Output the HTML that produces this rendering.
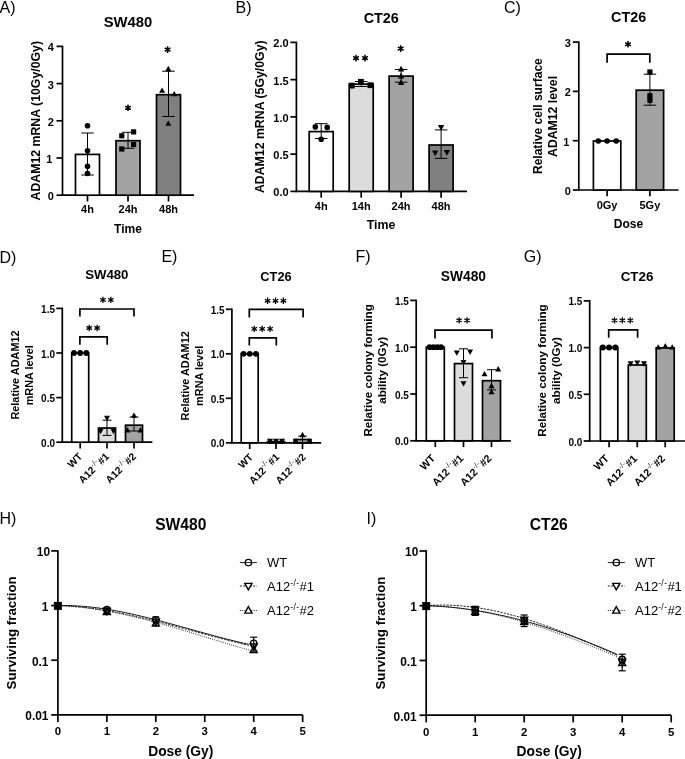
<!DOCTYPE html><html><head><meta charset="utf-8"><style>html,body{margin:0;padding:0;background:#fff;}svg{display:block;will-change:transform;}</style></head><body>
<svg width="685" height="759" viewBox="0 0 685 759" font-family='"Liberation Sans", sans-serif' fill="#000">
<text x="-0.50" y="12.70" font-size="16" font-weight="normal">A)</text>
<text x="128.00" y="26.80" font-size="14.8" text-anchor="middle" font-weight="bold" >SW480</text>
<line x1="62.50" y1="45.65" x2="62.50" y2="195.95" stroke="#000" stroke-width="1.7" />
<line x1="56.50" y1="195.20" x2="62.50" y2="195.20" stroke="#000" stroke-width="1.7" />
<text x="53.90" y="200.15" font-size="11" text-anchor="end" font-weight="bold" >0</text>
<line x1="56.50" y1="158.00" x2="62.50" y2="158.00" stroke="#000" stroke-width="1.7" />
<text x="52.47" y="162.95" font-size="11" text-anchor="end" font-weight="bold" >1</text>
<line x1="56.50" y1="120.80" x2="62.50" y2="120.80" stroke="#000" stroke-width="1.7" />
<text x="53.90" y="125.75" font-size="11" text-anchor="end" font-weight="bold" >2</text>
<line x1="56.50" y1="83.60" x2="62.50" y2="83.60" stroke="#000" stroke-width="1.7" />
<text x="53.90" y="88.55" font-size="11" text-anchor="end" font-weight="bold" >3</text>
<line x1="56.50" y1="46.40" x2="62.50" y2="46.40" stroke="#000" stroke-width="1.7" />
<text x="53.90" y="51.35" font-size="11" text-anchor="end" font-weight="bold" >4</text>
<line x1="61.75" y1="195.20" x2="194.00" y2="195.20" stroke="#000" stroke-width="1.7" />
<line x1="87.50" y1="195.20" x2="87.50" y2="201.50" stroke="#000" stroke-width="1.7" />
<line x1="128.00" y1="195.20" x2="128.00" y2="201.50" stroke="#000" stroke-width="1.7" />
<line x1="168.50" y1="195.20" x2="168.50" y2="201.50" stroke="#000" stroke-width="1.7" />
<rect x="75.50" y="154.40" width="24.00" height="40.80" fill="#fff" stroke="#000" stroke-width="1.7"/>
<rect x="116.00" y="140.70" width="24.00" height="54.50" fill="#a3a3a3" stroke="#000" stroke-width="1.7"/>
<rect x="156.50" y="94.70" width="24.00" height="100.50" fill="#808080" stroke="#000" stroke-width="1.7"/>
<line x1="87.50" y1="133.00" x2="87.50" y2="175.00" stroke="#000" stroke-width="1.0" />
<line x1="81.25" y1="133.00" x2="93.75" y2="133.00" stroke="#000" stroke-width="1.0" />
<line x1="81.25" y1="175.00" x2="93.75" y2="175.00" stroke="#000" stroke-width="1.0" />
<circle cx="87.50" cy="125.80" r="2.8" fill="#000"/>
<circle cx="87.50" cy="150.70" r="2.8" fill="#000"/>
<circle cx="87.50" cy="166.30" r="2.8" fill="#000"/>
<circle cx="87.50" cy="173.50" r="2.8" fill="#000"/>
<line x1="128.00" y1="132.30" x2="128.00" y2="148.30" stroke="#000" stroke-width="1.0" />
<line x1="121.75" y1="132.30" x2="134.25" y2="132.30" stroke="#000" stroke-width="1.0" />
<line x1="121.75" y1="148.30" x2="134.25" y2="148.30" stroke="#000" stroke-width="1.0" />
<rect x="119.20" y="133.20" width="5.2" height="5.2" fill="#000"/>
<rect x="131.00" y="129.30" width="5.2" height="5.2" fill="#000"/>
<rect x="131.00" y="142.00" width="5.2" height="5.2" fill="#000"/>
<rect x="119.20" y="146.40" width="5.2" height="5.2" fill="#000"/>
<line x1="168.50" y1="71.20" x2="168.50" y2="116.50" stroke="#000" stroke-width="1.0" />
<line x1="162.25" y1="71.20" x2="174.75" y2="71.20" stroke="#000" stroke-width="1.0" />
<line x1="162.25" y1="116.50" x2="174.75" y2="116.50" stroke="#000" stroke-width="1.0" />
<polygon points="168.30,65.76 165.30,71.16 171.30,71.16" fill="#000" />
<polygon points="162.10,87.46 159.10,92.86 165.10,92.86" fill="#000" />
<polygon points="174.20,90.96 171.20,96.36 177.20,96.36" fill="#000" />
<polygon points="168.30,120.46 165.30,125.86 171.30,125.86" fill="#000" />
<path d="M128.00,104.40L128.00,111.00M125.14,106.05L130.86,109.35M130.86,106.05L125.14,109.35" stroke="#000" stroke-width="1.5" fill="none"/>
<path d="M167.60,46.30L167.60,52.90M164.74,47.95L170.46,51.25M170.46,47.95L164.74,51.25" stroke="#000" stroke-width="1.5" fill="none"/>
<text x="87.50" y="213.40" font-size="11" text-anchor="middle" font-weight="bold" >4h</text>
<text x="128.00" y="213.40" font-size="11" text-anchor="middle" font-weight="bold" >24h</text>
<text x="168.50" y="213.40" font-size="11" text-anchor="middle" font-weight="bold" >48h</text>
<text x="128.00" y="232.60" font-size="12" text-anchor="middle" font-weight="bold" >Time</text>
<text transform="translate(39.60,120.70) rotate(-90)" font-size="12.3" text-anchor="middle" font-weight="bold">ADAM12 mRNA (10Gy/0Gy)</text>
<text x="235.50" y="12.50" font-size="16" font-weight="normal">B)</text>
<text x="381.30" y="22.90" font-size="14.4" text-anchor="middle" font-weight="bold" >CT26</text>
<line x1="296.40" y1="41.65" x2="296.40" y2="192.15" stroke="#000" stroke-width="1.7" />
<line x1="290.40" y1="191.40" x2="296.40" y2="191.40" stroke="#000" stroke-width="1.7" />
<text x="288.60" y="196.35" font-size="11" text-anchor="end" font-weight="bold" >0.0</text>
<line x1="290.40" y1="154.15" x2="296.40" y2="154.15" stroke="#000" stroke-width="1.7" />
<text x="288.60" y="159.10" font-size="11" text-anchor="end" font-weight="bold" >0.5</text>
<line x1="290.40" y1="116.90" x2="296.40" y2="116.90" stroke="#000" stroke-width="1.7" />
<text x="288.60" y="121.85" font-size="11" text-anchor="end" font-weight="bold" >1.0</text>
<line x1="290.40" y1="79.65" x2="296.40" y2="79.65" stroke="#000" stroke-width="1.7" />
<text x="288.60" y="84.60" font-size="11" text-anchor="end" font-weight="bold" >1.5</text>
<line x1="290.40" y1="42.40" x2="296.40" y2="42.40" stroke="#000" stroke-width="1.7" />
<text x="288.60" y="47.35" font-size="11" text-anchor="end" font-weight="bold" >2.0</text>
<line x1="295.65" y1="191.40" x2="467.00" y2="191.40" stroke="#000" stroke-width="1.7" />
<line x1="321.20" y1="191.40" x2="321.20" y2="197.70" stroke="#000" stroke-width="1.7" />
<line x1="361.20" y1="191.40" x2="361.20" y2="197.70" stroke="#000" stroke-width="1.7" />
<line x1="401.10" y1="191.40" x2="401.10" y2="197.70" stroke="#000" stroke-width="1.7" />
<line x1="441.10" y1="191.40" x2="441.10" y2="197.70" stroke="#000" stroke-width="1.7" />
<rect x="309.20" y="131.60" width="24.00" height="59.80" fill="#fff" stroke="#000" stroke-width="1.7"/>
<rect x="349.20" y="84.10" width="24.00" height="107.30" fill="#dcdcdc" stroke="#000" stroke-width="1.7"/>
<rect x="389.10" y="76.10" width="24.00" height="115.30" fill="#a3a3a3" stroke="#000" stroke-width="1.7"/>
<rect x="429.10" y="145.00" width="24.00" height="46.40" fill="#808080" stroke="#000" stroke-width="1.7"/>
<line x1="321.20" y1="123.70" x2="321.20" y2="138.50" stroke="#000" stroke-width="1.0" />
<line x1="314.95" y1="123.70" x2="327.45" y2="123.70" stroke="#000" stroke-width="1.0" />
<line x1="314.95" y1="138.50" x2="327.45" y2="138.50" stroke="#000" stroke-width="1.0" />
<circle cx="315.30" cy="126.90" r="2.8" fill="#000"/>
<circle cx="327.20" cy="127.40" r="2.8" fill="#000"/>
<circle cx="321.20" cy="139.30" r="2.8" fill="#000"/>
<line x1="361.20" y1="81.50" x2="361.20" y2="86.50" stroke="#000" stroke-width="1.0" />
<line x1="354.95" y1="81.50" x2="367.45" y2="81.50" stroke="#000" stroke-width="1.0" />
<line x1="354.95" y1="86.50" x2="367.45" y2="86.50" stroke="#000" stroke-width="1.0" />
<rect x="348.90" y="82.70" width="5.8" height="5.8" fill="#000"/>
<rect x="358.00" y="78.90" width="5.8" height="5.8" fill="#000"/>
<rect x="367.50" y="82.30" width="5.8" height="5.8" fill="#000"/>
<line x1="401.10" y1="69.50" x2="401.10" y2="82.20" stroke="#000" stroke-width="1.0" />
<line x1="394.85" y1="69.50" x2="407.35" y2="69.50" stroke="#000" stroke-width="1.0" />
<line x1="394.85" y1="82.20" x2="407.35" y2="82.20" stroke="#000" stroke-width="1.0" />
<polygon points="401.10,65.84 397.90,71.60 404.30,71.60" fill="#000" />
<polygon points="401.10,72.64 397.90,78.40 404.30,78.40" fill="#000" />
<polygon points="401.10,79.34 397.90,85.10 404.30,85.10" fill="#000" />
<line x1="441.10" y1="129.90" x2="441.10" y2="158.40" stroke="#000" stroke-width="1.0" />
<line x1="434.85" y1="129.90" x2="447.35" y2="129.90" stroke="#000" stroke-width="1.0" />
<line x1="434.85" y1="158.40" x2="447.35" y2="158.40" stroke="#000" stroke-width="1.0" />
<polygon points="441.10,130.86 437.90,125.10 444.30,125.10" fill="#000" />
<polygon points="435.20,156.16 432.00,150.40 438.40,150.40" fill="#000" />
<polygon points="446.90,155.66 443.70,149.90 450.10,149.90" fill="#000" />
<path d="M356.00,54.80L356.00,61.40M353.14,56.45L358.86,59.75M358.86,56.45L353.14,59.75" stroke="#000" stroke-width="1.5" fill="none"/>
<path d="M365.00,54.80L365.00,61.40M362.14,56.45L367.86,59.75M367.86,56.45L362.14,59.75" stroke="#000" stroke-width="1.5" fill="none"/>
<path d="M400.70,45.30L400.70,51.90M397.84,46.95L403.56,50.25M403.56,46.95L397.84,50.25" stroke="#000" stroke-width="1.5" fill="none"/>
<text x="321.20" y="210.20" font-size="11" text-anchor="middle" font-weight="bold" >4h</text>
<text x="361.20" y="210.20" font-size="11" text-anchor="middle" font-weight="bold" >14h</text>
<text x="401.10" y="210.20" font-size="11" text-anchor="middle" font-weight="bold" >24h</text>
<text x="441.10" y="210.20" font-size="11" text-anchor="middle" font-weight="bold" >48h</text>
<text x="381.10" y="228.80" font-size="12.4" text-anchor="middle" font-weight="bold" >Time</text>
<text transform="translate(263.50,116.75) rotate(-90)" font-size="12.3" text-anchor="middle" font-weight="bold">ADAM12 mRNA (5Gy/0Gy)</text>
<text x="504.00" y="12.60" font-size="16" font-weight="normal">C)</text>
<text x="628.70" y="22.20" font-size="14.4" text-anchor="middle" font-weight="bold" >CT26</text>
<line x1="578.80" y1="41.35" x2="578.80" y2="190.75" stroke="#000" stroke-width="1.7" />
<line x1="572.80" y1="190.00" x2="578.80" y2="190.00" stroke="#000" stroke-width="1.7" />
<text x="570.90" y="194.95" font-size="11" text-anchor="end" font-weight="bold" >0</text>
<line x1="572.80" y1="140.70" x2="578.80" y2="140.70" stroke="#000" stroke-width="1.7" />
<text x="569.47" y="145.65" font-size="11" text-anchor="end" font-weight="bold" >1</text>
<line x1="572.80" y1="91.40" x2="578.80" y2="91.40" stroke="#000" stroke-width="1.7" />
<text x="570.90" y="96.35" font-size="11" text-anchor="end" font-weight="bold" >2</text>
<line x1="572.80" y1="42.10" x2="578.80" y2="42.10" stroke="#000" stroke-width="1.7" />
<text x="570.90" y="47.05" font-size="11" text-anchor="end" font-weight="bold" >3</text>
<line x1="578.05" y1="190.00" x2="678.60" y2="190.00" stroke="#000" stroke-width="1.7" />
<line x1="607.10" y1="190.00" x2="607.10" y2="196.30" stroke="#000" stroke-width="1.7" />
<line x1="649.90" y1="190.00" x2="649.90" y2="196.30" stroke="#000" stroke-width="1.7" />
<rect x="593.40" y="141.00" width="27.40" height="49.00" fill="#fff" stroke="#000" stroke-width="1.7"/>
<rect x="636.20" y="90.20" width="27.40" height="99.80" fill="#a3a3a3" stroke="#000" stroke-width="1.7"/>
<circle cx="598.30" cy="141.00" r="2.8" fill="#000"/>
<circle cx="607.10" cy="141.00" r="2.8" fill="#000"/>
<circle cx="616.20" cy="141.00" r="2.8" fill="#000"/>
<line x1="649.90" y1="74.20" x2="649.90" y2="105.20" stroke="#000" stroke-width="1.0" />
<line x1="643.65" y1="74.20" x2="656.15" y2="74.20" stroke="#000" stroke-width="1.0" />
<line x1="643.65" y1="105.20" x2="656.15" y2="105.20" stroke="#000" stroke-width="1.0" />
<rect x="647.30" y="69.40" width="5.2" height="5.2" fill="#000"/>
<rect x="647.30" y="93.10" width="5.2" height="5.2" fill="#000"/>
<rect x="647.30" y="97.70" width="5.2" height="5.2" fill="#000"/>
<polyline points="607.10,62.80 607.10,54.10 649.80,54.10 649.80,62.80" fill="none" stroke="#000" stroke-width="1.7"/>
<path d="M628.00,40.90L628.00,47.50M625.14,42.55L630.86,45.85M630.86,42.55L625.14,45.85" stroke="#000" stroke-width="1.5" fill="none"/>
<text x="607.10" y="208.50" font-size="11" text-anchor="middle" font-weight="bold" >0Gy</text>
<text x="649.90" y="208.50" font-size="11" text-anchor="middle" font-weight="bold" >5Gy</text>
<text x="628.40" y="227.70" font-size="12" text-anchor="middle" font-weight="bold" >Dose</text>
<text transform="translate(542.20,116.15) rotate(-90)" font-size="12.05" text-anchor="middle" font-weight="bold">Relative cell surface</text>
<text transform="translate(556.70,116.45) rotate(-90)" font-size="12.25" text-anchor="middle" font-weight="bold">ADAM12 level</text>
<text x="-0.50" y="262.80" font-size="16" font-weight="normal">D)</text>
<text x="106.80" y="279.30" font-size="13.2" text-anchor="middle" font-weight="bold" >SW480</text>
<line x1="62.30" y1="307.65" x2="62.30" y2="442.95" stroke="#000" stroke-width="1.7" />
<line x1="56.30" y1="442.20" x2="62.30" y2="442.20" stroke="#000" stroke-width="1.7" />
<text x="55.00" y="446.70" font-size="10" text-anchor="end" font-weight="bold" >0.0</text>
<line x1="56.30" y1="397.60" x2="62.30" y2="397.60" stroke="#000" stroke-width="1.7" />
<text x="55.00" y="402.10" font-size="10" text-anchor="end" font-weight="bold" >0.5</text>
<line x1="56.30" y1="353.00" x2="62.30" y2="353.00" stroke="#000" stroke-width="1.7" />
<text x="55.00" y="357.50" font-size="10" text-anchor="end" font-weight="bold" >1.0</text>
<line x1="56.30" y1="308.40" x2="62.30" y2="308.40" stroke="#000" stroke-width="1.7" />
<text x="55.00" y="312.90" font-size="10" text-anchor="end" font-weight="bold" >1.5</text>
<line x1="61.55" y1="442.20" x2="152.40" y2="442.20" stroke="#000" stroke-width="1.7" />
<line x1="80.20" y1="442.20" x2="80.20" y2="448.50" stroke="#000" stroke-width="1.7" />
<line x1="107.00" y1="442.20" x2="107.00" y2="448.50" stroke="#000" stroke-width="1.7" />
<line x1="134.00" y1="442.20" x2="134.00" y2="448.50" stroke="#000" stroke-width="1.7" />
<rect x="71.70" y="353.00" width="17.00" height="89.20" fill="#fff" stroke="#000" stroke-width="1.7"/>
<rect x="98.50" y="428.00" width="17.00" height="14.20" fill="#dcdcdc" stroke="#000" stroke-width="1.7"/>
<rect x="125.50" y="425.20" width="17.00" height="17.00" fill="#a3a3a3" stroke="#000" stroke-width="1.7"/>
<circle cx="74.00" cy="353.00" r="2.9" fill="#000"/>
<circle cx="80.20" cy="353.00" r="2.9" fill="#000"/>
<circle cx="86.30" cy="353.00" r="2.9" fill="#000"/>
<line x1="107.00" y1="420.20" x2="107.00" y2="435.40" stroke="#000" stroke-width="1.0" />
<line x1="102.50" y1="420.20" x2="111.50" y2="420.20" stroke="#000" stroke-width="1.0" />
<line x1="102.50" y1="435.40" x2="111.50" y2="435.40" stroke="#000" stroke-width="1.0" />
<polygon points="107.00,421.24 104.00,415.84 110.00,415.84" fill="#000" />
<polygon points="100.60,434.14 97.60,428.74 103.60,428.74" fill="#000" />
<polygon points="113.50,434.14 110.50,428.74 116.50,428.74" fill="#000" />
<line x1="134.00" y1="417.00" x2="134.00" y2="431.00" stroke="#000" stroke-width="1.0" />
<line x1="129.50" y1="417.00" x2="138.50" y2="417.00" stroke="#000" stroke-width="1.0" />
<line x1="129.50" y1="431.00" x2="138.50" y2="431.00" stroke="#000" stroke-width="1.0" />
<polygon points="134.00,412.46 131.00,417.86 137.00,417.86" fill="#000" />
<polygon points="127.40,427.06 124.40,432.46 130.40,432.46" fill="#000" />
<polygon points="140.40,427.06 137.40,432.46 143.40,432.46" fill="#000" />
<polyline points="79.90,316.60 79.90,309.00 134.00,309.00 134.00,316.60" fill="none" stroke="#000" stroke-width="1.7"/>
<path d="M102.95,296.70L102.95,303.10M100.18,298.30L105.72,301.50M105.72,298.30L100.18,301.50" stroke="#000" stroke-width="1.3" fill="none"/>
<path d="M110.85,296.70L110.85,303.10M108.08,298.30L113.62,301.50M113.62,298.30L108.08,301.50" stroke="#000" stroke-width="1.3" fill="none"/>
<polyline points="79.90,344.70 79.90,336.90 107.20,336.90 107.20,344.70" fill="none" stroke="#000" stroke-width="1.7"/>
<path d="M89.25,324.80L89.25,331.20M86.48,326.40L92.02,329.60M92.02,326.40L86.48,329.60" stroke="#000" stroke-width="1.3" fill="none"/>
<path d="M97.15,324.80L97.15,331.20M94.38,326.40L99.92,329.60M99.92,326.40L94.38,329.60" stroke="#000" stroke-width="1.3" fill="none"/>
<text transform="translate(82.90,457.20) rotate(-45)" font-size="10.2" text-anchor="end" font-weight="bold"><tspan>WT</tspan></text>
<text transform="translate(109.70,457.20) rotate(-45)" font-size="10.2" text-anchor="end" font-weight="bold"><tspan>A12</tspan><tspan font-size="7.4" dy="-4.4" font-weight="normal" letter-spacing="0.3">-/-</tspan><tspan dy="4.4">#1</tspan></text>
<text transform="translate(136.70,457.20) rotate(-45)" font-size="10.2" text-anchor="end" font-weight="bold"><tspan>A12</tspan><tspan font-size="7.4" dy="-4.4" font-weight="normal" letter-spacing="0.3">-/-</tspan><tspan dy="4.4">#2</tspan></text>
<text transform="translate(18.80,375.00) rotate(-90)" font-size="10.9" text-anchor="middle" font-weight="bold">Relative ADAM12</text>
<text transform="translate(32.80,375.30) rotate(-90)" font-size="10.9" text-anchor="middle" font-weight="bold">mRNA level</text>
<text x="161.40" y="262.30" font-size="16" font-weight="normal">E)</text>
<text x="276.00" y="281.10" font-size="12.8" text-anchor="middle" font-weight="bold" >CT26</text>
<line x1="231.90" y1="308.55" x2="231.90" y2="443.55" stroke="#000" stroke-width="1.7" />
<line x1="225.90" y1="442.80" x2="231.90" y2="442.80" stroke="#000" stroke-width="1.7" />
<text x="224.60" y="447.30" font-size="10" text-anchor="end" font-weight="bold" >0.0</text>
<line x1="225.90" y1="398.30" x2="231.90" y2="398.30" stroke="#000" stroke-width="1.7" />
<text x="224.60" y="402.80" font-size="10" text-anchor="end" font-weight="bold" >0.5</text>
<line x1="225.90" y1="353.80" x2="231.90" y2="353.80" stroke="#000" stroke-width="1.7" />
<text x="224.60" y="358.30" font-size="10" text-anchor="end" font-weight="bold" >1.0</text>
<line x1="225.90" y1="309.30" x2="231.90" y2="309.30" stroke="#000" stroke-width="1.7" />
<text x="224.60" y="313.80" font-size="10" text-anchor="end" font-weight="bold" >1.5</text>
<line x1="231.15" y1="442.80" x2="321.10" y2="442.80" stroke="#000" stroke-width="1.7" />
<line x1="249.70" y1="442.80" x2="249.70" y2="449.10" stroke="#000" stroke-width="1.7" />
<line x1="276.00" y1="442.80" x2="276.00" y2="449.10" stroke="#000" stroke-width="1.7" />
<line x1="302.50" y1="442.80" x2="302.50" y2="449.10" stroke="#000" stroke-width="1.7" />
<rect x="241.20" y="353.80" width="17.00" height="89.00" fill="#fff" stroke="#000" stroke-width="1.7"/>
<rect x="267.50" y="441.60" width="17.00" height="1.20" fill="#dcdcdc" stroke="#000" stroke-width="1.7"/>
<rect x="294.00" y="439.50" width="17.00" height="3.30" fill="#a3a3a3" stroke="#000" stroke-width="1.7"/>
<circle cx="243.50" cy="353.80" r="2.9" fill="#000"/>
<circle cx="249.70" cy="353.80" r="2.9" fill="#000"/>
<circle cx="255.90" cy="353.80" r="2.9" fill="#000"/>
<polygon points="270.00,444.04 267.00,438.64 273.00,438.64" fill="#000" />
<polygon points="276.00,444.04 273.00,438.64 279.00,438.64" fill="#000" />
<polygon points="282.00,444.04 279.00,438.64 285.00,438.64" fill="#000" />
<line x1="302.50" y1="436.10" x2="302.50" y2="443.50" stroke="#000" stroke-width="1.0" />
<line x1="298.15" y1="436.10" x2="306.85" y2="436.10" stroke="#000" stroke-width="1.0" />
<line x1="298.15" y1="443.50" x2="306.85" y2="443.50" stroke="#000" stroke-width="1.0" />
<polygon points="302.50,431.86 299.50,437.26 305.50,437.26" fill="#000" />
<polygon points="296.00,438.06 293.00,443.46 299.00,443.46" fill="#000" />
<polygon points="309.00,438.06 306.00,443.46 312.00,443.46" fill="#000" />
<polyline points="249.30,317.50 249.30,309.40 303.10,309.40 303.10,317.50" fill="none" stroke="#000" stroke-width="1.7"/>
<path d="M267.60,297.60L267.60,304.00M264.83,299.20L270.37,302.40M270.37,299.20L264.83,302.40" stroke="#000" stroke-width="1.3" fill="none"/>
<path d="M275.50,297.60L275.50,304.00M272.73,299.20L278.27,302.40M278.27,299.20L272.73,302.40" stroke="#000" stroke-width="1.3" fill="none"/>
<path d="M283.40,297.60L283.40,304.00M280.63,299.20L286.17,302.40M286.17,299.20L280.63,302.40" stroke="#000" stroke-width="1.3" fill="none"/>
<polyline points="249.30,345.60 249.30,337.80 276.30,337.80 276.30,345.60" fill="none" stroke="#000" stroke-width="1.7"/>
<path d="M254.30,325.70L254.30,332.10M251.53,327.30L257.07,330.50M257.07,327.30L251.53,330.50" stroke="#000" stroke-width="1.3" fill="none"/>
<path d="M262.20,325.70L262.20,332.10M259.43,327.30L264.97,330.50M264.97,327.30L259.43,330.50" stroke="#000" stroke-width="1.3" fill="none"/>
<path d="M270.10,325.70L270.10,332.10M267.33,327.30L272.87,330.50M272.87,327.30L267.33,330.50" stroke="#000" stroke-width="1.3" fill="none"/>
<text transform="translate(253.70,457.80) rotate(-45)" font-size="10.2" text-anchor="end" font-weight="bold"><tspan>WT</tspan></text>
<text transform="translate(280.00,457.80) rotate(-45)" font-size="10.2" text-anchor="end" font-weight="bold"><tspan>A12</tspan><tspan font-size="7.4" dy="-4.4" font-weight="normal" letter-spacing="0.3">-/-</tspan><tspan dy="4.4">#1</tspan></text>
<text transform="translate(306.50,457.80) rotate(-45)" font-size="10.2" text-anchor="end" font-weight="bold"><tspan>A12</tspan><tspan font-size="7.4" dy="-4.4" font-weight="normal" letter-spacing="0.3">-/-</tspan><tspan dy="4.4">#2</tspan></text>
<text transform="translate(189.00,375.80) rotate(-90)" font-size="10.9" text-anchor="middle" font-weight="bold">Relative ADAM12</text>
<text transform="translate(203.00,375.85) rotate(-90)" font-size="10.9" text-anchor="middle" font-weight="bold">mRNA level</text>
<text x="355.50" y="262.30" font-size="16" font-weight="normal">F)</text>
<text x="463.40" y="281.00" font-size="13.8" text-anchor="middle" font-weight="bold" >SW480</text>
<line x1="416.20" y1="299.65" x2="416.20" y2="441.55" stroke="#000" stroke-width="1.7" />
<line x1="410.20" y1="440.80" x2="416.20" y2="440.80" stroke="#000" stroke-width="1.7" />
<text x="408.90" y="445.30" font-size="10" text-anchor="end" font-weight="bold" >0.0</text>
<line x1="410.20" y1="394.00" x2="416.20" y2="394.00" stroke="#000" stroke-width="1.7" />
<text x="408.90" y="398.50" font-size="10" text-anchor="end" font-weight="bold" >0.5</text>
<line x1="410.20" y1="347.20" x2="416.20" y2="347.20" stroke="#000" stroke-width="1.7" />
<text x="408.90" y="351.70" font-size="10" text-anchor="end" font-weight="bold" >1.0</text>
<line x1="410.20" y1="300.40" x2="416.20" y2="300.40" stroke="#000" stroke-width="1.7" />
<text x="408.90" y="304.90" font-size="10" text-anchor="end" font-weight="bold" >1.5</text>
<line x1="415.45" y1="440.80" x2="510.90" y2="440.80" stroke="#000" stroke-width="1.7" />
<line x1="435.30" y1="440.80" x2="435.30" y2="447.10" stroke="#000" stroke-width="1.7" />
<line x1="463.50" y1="440.80" x2="463.50" y2="447.10" stroke="#000" stroke-width="1.7" />
<line x1="491.50" y1="440.80" x2="491.50" y2="447.10" stroke="#000" stroke-width="1.7" />
<rect x="426.30" y="347.20" width="18.00" height="93.60" fill="#fff" stroke="#000" stroke-width="1.7"/>
<rect x="454.50" y="363.60" width="18.00" height="77.20" fill="#dcdcdc" stroke="#000" stroke-width="1.7"/>
<rect x="482.50" y="380.70" width="18.00" height="60.10" fill="#a3a3a3" stroke="#000" stroke-width="1.7"/>
<circle cx="429.60" cy="347.20" r="2.9" fill="#000"/>
<circle cx="433.50" cy="347.20" r="2.9" fill="#000"/>
<circle cx="437.30" cy="347.20" r="2.9" fill="#000"/>
<circle cx="441.10" cy="347.20" r="2.9" fill="#000"/>
<line x1="463.50" y1="348.80" x2="463.50" y2="377.70" stroke="#000" stroke-width="1.0" />
<line x1="459.00" y1="348.80" x2="468.00" y2="348.80" stroke="#000" stroke-width="1.0" />
<line x1="459.00" y1="377.70" x2="468.00" y2="377.70" stroke="#000" stroke-width="1.0" />
<polygon points="456.80,355.84 453.80,350.44 459.80,350.44" fill="#000" />
<polygon points="470.10,354.94 467.10,349.54 473.10,349.54" fill="#000" />
<polygon points="463.50,365.34 460.50,359.94 466.50,359.94" fill="#000" />
<polygon points="463.50,386.54 460.50,381.14 466.50,381.14" fill="#000" />
<line x1="491.50" y1="369.70" x2="491.50" y2="389.90" stroke="#000" stroke-width="1.0" />
<line x1="487.00" y1="369.70" x2="496.00" y2="369.70" stroke="#000" stroke-width="1.0" />
<line x1="487.00" y1="389.90" x2="496.00" y2="389.90" stroke="#000" stroke-width="1.0" />
<polygon points="484.50,370.96 481.50,376.36 487.50,376.36" fill="#000" />
<polygon points="498.20,366.06 495.20,371.46 501.20,371.46" fill="#000" />
<polygon points="491.50,382.86 488.50,388.26 494.50,388.26" fill="#000" />
<polygon points="491.50,388.96 488.50,394.36 494.50,394.36" fill="#000" />
<polyline points="435.00,338.40 435.00,330.20 491.90,330.20 491.90,338.40" fill="none" stroke="#000" stroke-width="1.7"/>
<path d="M459.15,317.20L459.15,323.60M456.38,318.80L461.92,322.00M461.92,318.80L456.38,322.00" stroke="#000" stroke-width="1.3" fill="none"/>
<path d="M467.05,317.20L467.05,323.60M464.28,318.80L469.82,322.00M469.82,318.80L464.28,322.00" stroke="#000" stroke-width="1.3" fill="none"/>
<text transform="translate(435.90,459.00) rotate(-45)" font-size="10.6" text-anchor="end" font-weight="bold"><tspan>WT</tspan></text>
<text transform="translate(464.10,459.00) rotate(-45)" font-size="10.6" text-anchor="end" font-weight="bold"><tspan>A12</tspan><tspan font-size="7.4" dy="-4.4" font-weight="normal" letter-spacing="0.3">-/-</tspan><tspan dy="4.4">#1</tspan></text>
<text transform="translate(492.10,459.00) rotate(-45)" font-size="10.6" text-anchor="end" font-weight="bold"><tspan>A12</tspan><tspan font-size="7.4" dy="-4.4" font-weight="normal" letter-spacing="0.3">-/-</tspan><tspan dy="4.4">#2</tspan></text>
<text transform="translate(372.10,370.35) rotate(-90)" font-size="11.7" text-anchor="middle" font-weight="bold">Relative colony forming</text>
<text transform="translate(386.00,370.35) rotate(-90)" font-size="11.7" text-anchor="middle" font-weight="bold">ability (0Gy)</text>
<text x="523.80" y="262.30" font-size="16" font-weight="normal">G)</text>
<text x="637.00" y="280.90" font-size="13.4" text-anchor="middle" font-weight="bold" >CT26</text>
<line x1="589.70" y1="300.15" x2="589.70" y2="441.75" stroke="#000" stroke-width="1.7" />
<line x1="583.70" y1="441.00" x2="589.70" y2="441.00" stroke="#000" stroke-width="1.7" />
<text x="582.40" y="445.50" font-size="10" text-anchor="end" font-weight="bold" >0.0</text>
<line x1="583.70" y1="394.30" x2="589.70" y2="394.30" stroke="#000" stroke-width="1.7" />
<text x="582.40" y="398.80" font-size="10" text-anchor="end" font-weight="bold" >0.5</text>
<line x1="583.70" y1="347.60" x2="589.70" y2="347.60" stroke="#000" stroke-width="1.7" />
<text x="582.40" y="352.10" font-size="10" text-anchor="end" font-weight="bold" >1.0</text>
<line x1="583.70" y1="300.90" x2="589.70" y2="300.90" stroke="#000" stroke-width="1.7" />
<text x="582.40" y="305.40" font-size="10" text-anchor="end" font-weight="bold" >1.5</text>
<line x1="588.95" y1="441.00" x2="686.00" y2="441.00" stroke="#000" stroke-width="1.7" />
<line x1="609.10" y1="441.00" x2="609.10" y2="447.30" stroke="#000" stroke-width="1.7" />
<line x1="637.30" y1="441.00" x2="637.30" y2="447.30" stroke="#000" stroke-width="1.7" />
<line x1="665.20" y1="441.00" x2="665.20" y2="447.30" stroke="#000" stroke-width="1.7" />
<rect x="600.40" y="347.60" width="17.40" height="93.40" fill="#fff" stroke="#000" stroke-width="1.7"/>
<rect x="628.30" y="365.00" width="18.00" height="76.00" fill="#dcdcdc" stroke="#000" stroke-width="1.7"/>
<rect x="656.20" y="347.90" width="18.00" height="93.10" fill="#a3a3a3" stroke="#000" stroke-width="1.7"/>
<circle cx="602.80" cy="347.60" r="3.0" fill="#000"/>
<circle cx="609.10" cy="347.60" r="3.0" fill="#000"/>
<circle cx="615.40" cy="347.60" r="3.0" fill="#000"/>
<polygon points="630.60,366.64 627.60,361.24 633.60,361.24" fill="#000" />
<polygon points="637.30,365.84 634.30,360.44 640.30,360.44" fill="#000" />
<polygon points="644.00,366.64 641.00,361.24 647.00,361.24" fill="#000" />
<polygon points="658.20,344.16 655.20,349.56 661.20,349.56" fill="#000" />
<polygon points="665.30,343.06 662.30,348.46 668.30,348.46" fill="#000" />
<polygon points="672.20,344.16 669.20,349.56 675.20,349.56" fill="#000" />
<polyline points="608.70,337.80 608.70,329.90 637.60,329.90 637.60,337.80" fill="none" stroke="#000" stroke-width="1.7"/>
<path d="M614.50,317.20L614.50,323.60M611.73,318.80L617.27,322.00M617.27,318.80L611.73,322.00" stroke="#000" stroke-width="1.3" fill="none"/>
<path d="M622.40,317.20L622.40,323.60M619.63,318.80L625.17,322.00M625.17,318.80L619.63,322.00" stroke="#000" stroke-width="1.3" fill="none"/>
<path d="M630.30,317.20L630.30,323.60M627.53,318.80L633.07,322.00M633.07,318.80L627.53,322.00" stroke="#000" stroke-width="1.3" fill="none"/>
<text transform="translate(609.70,459.20) rotate(-45)" font-size="10.6" text-anchor="end" font-weight="bold"><tspan>WT</tspan></text>
<text transform="translate(637.90,459.20) rotate(-45)" font-size="10.6" text-anchor="end" font-weight="bold"><tspan>A12</tspan><tspan font-size="7.4" dy="-4.4" font-weight="normal" letter-spacing="0.3">-/-</tspan><tspan dy="4.4">#1</tspan></text>
<text transform="translate(665.80,459.20) rotate(-45)" font-size="10.6" text-anchor="end" font-weight="bold"><tspan>A12</tspan><tspan font-size="7.4" dy="-4.4" font-weight="normal" letter-spacing="0.3">-/-</tspan><tspan dy="4.4">#2</tspan></text>
<text transform="translate(545.60,370.50) rotate(-90)" font-size="11.7" text-anchor="middle" font-weight="bold">Relative colony forming</text>
<text transform="translate(559.80,370.50) rotate(-90)" font-size="11.7" text-anchor="middle" font-weight="bold">ability (0Gy)</text>
<text x="-0.50" y="523.60" font-size="16" font-weight="normal">H)</text>
<text x="180.80" y="530.20" font-size="15.6" text-anchor="middle" font-weight="bold" >SW480</text>
<line x1="57.90" y1="550.15" x2="57.90" y2="715.65" stroke="#000" stroke-width="1.7" />
<line x1="51.20" y1="550.90" x2="57.90" y2="550.90" stroke="#000" stroke-width="1.7" />
<text x="50.00" y="556.25" font-size="11.9" text-anchor="end" font-weight="bold" >10</text>
<line x1="51.20" y1="605.57" x2="57.90" y2="605.57" stroke="#000" stroke-width="1.7" />
<text x="48.45" y="610.92" font-size="11.9" text-anchor="end" font-weight="bold" >1</text>
<line x1="51.20" y1="660.23" x2="57.90" y2="660.23" stroke="#000" stroke-width="1.7" />
<text x="48.45" y="665.59" font-size="11.9" text-anchor="end" font-weight="bold" >0.1</text>
<line x1="51.20" y1="714.90" x2="57.90" y2="714.90" stroke="#000" stroke-width="1.7" />
<text x="48.45" y="720.25" font-size="11.9" text-anchor="end" font-weight="bold" >0.01</text>
<line x1="57.15" y1="714.90" x2="302.65" y2="714.90" stroke="#000" stroke-width="1.7" />
<line x1="57.90" y1="714.90" x2="57.90" y2="722.10" stroke="#000" stroke-width="1.7" />
<line x1="106.85" y1="714.90" x2="106.85" y2="722.10" stroke="#000" stroke-width="1.7" />
<line x1="155.80" y1="714.90" x2="155.80" y2="722.10" stroke="#000" stroke-width="1.7" />
<line x1="204.75" y1="714.90" x2="204.75" y2="722.10" stroke="#000" stroke-width="1.7" />
<line x1="253.70" y1="714.90" x2="253.70" y2="722.10" stroke="#000" stroke-width="1.7" />
<line x1="302.65" y1="714.90" x2="302.65" y2="722.10" stroke="#000" stroke-width="1.7" />
<text x="57.90" y="735.30" font-size="11.4" text-anchor="middle" font-weight="bold" >0</text>
<text x="106.85" y="735.30" font-size="11.4" text-anchor="middle" font-weight="bold" >1</text>
<text x="155.80" y="735.30" font-size="11.4" text-anchor="middle" font-weight="bold" >2</text>
<text x="204.75" y="735.30" font-size="11.4" text-anchor="middle" font-weight="bold" >3</text>
<text x="253.70" y="735.30" font-size="11.4" text-anchor="middle" font-weight="bold" >4</text>
<text x="302.65" y="735.30" font-size="11.4" text-anchor="middle" font-weight="bold" >5</text>
<text x="180.77" y="755.80" font-size="13.8" text-anchor="middle" font-weight="bold" >Dose (Gy)</text>
<text transform="translate(16.20,632.90) rotate(-90)" font-size="13.3" text-anchor="middle" font-weight="bold">Surviving fraction</text>
<polyline points="57.90,605.57 62.80,605.51 67.69,605.55 72.58,605.70 77.48,605.95 82.38,606.29 87.27,606.71 92.17,607.23 97.06,607.82 101.96,608.49 106.85,609.24 111.75,610.05 116.64,610.93 121.53,611.87 126.43,612.87 131.33,613.92 136.22,615.02 141.12,616.16 146.01,617.34 150.91,618.56 155.80,619.81 160.69,621.09 165.59,622.40 170.49,623.72 175.38,625.07 180.28,626.42 185.17,627.78 190.06,629.14 194.96,630.51 199.86,631.87 204.75,633.22 209.65,634.56 214.54,635.88 219.44,637.19 224.33,638.46 229.23,639.71 234.12,640.93 239.02,642.11 243.91,643.25 248.81,644.34" fill="none" stroke="#000" stroke-width="0.9" />
<polyline points="57.90,605.57 62.80,605.74 67.69,605.99 72.58,606.33 77.48,606.74 82.38,607.22 87.27,607.78 92.17,608.40 97.06,609.08 101.96,609.83 106.85,610.63 111.75,611.49 116.64,612.41 121.53,613.37 126.43,614.37 131.33,615.42 136.22,616.51 141.12,617.64 146.01,618.79 150.91,619.98 155.80,621.20 160.69,622.44 165.59,623.70 170.49,624.98 175.38,626.27 180.28,627.57 185.17,628.89 190.06,630.21 194.96,631.53 199.86,632.85 204.75,634.17 209.65,635.48 214.54,636.78 219.44,638.07 224.33,639.34 229.23,640.59 234.12,641.82 239.02,643.03 243.91,644.20 248.81,645.35" fill="none" stroke="#000" stroke-width="0.9" stroke-dasharray="2.2,1.2"/>
<polyline points="57.90,605.57 62.80,605.78 67.69,606.07 72.58,606.45 77.48,606.90 82.38,607.43 87.27,608.03 92.17,608.69 97.06,609.43 101.96,610.23 106.85,611.09 111.75,612.01 116.64,612.98 121.53,614.01 126.43,615.08 131.33,616.21 136.22,617.37 141.12,618.58 146.01,619.83 150.91,621.11 155.80,622.43 160.69,623.77 165.59,625.15 170.49,626.55 175.38,627.97 180.28,629.41 185.17,630.86 190.06,632.33 194.96,633.81 199.86,635.30 204.75,636.79 209.65,638.29 214.54,639.78 219.44,641.27 224.33,642.76 229.23,644.24 234.12,645.70 239.02,647.15 243.91,648.59 248.81,650.00" fill="none" stroke="#000" stroke-width="0.9" stroke-dasharray="0.9,1.3"/>
<rect x="53.90" y="601.90" width="8" height="8" fill="#000"/>
<line x1="106.85" y1="608.00" x2="106.85" y2="613.50" stroke="#000" stroke-width="1.2" />
<line x1="103.35" y1="608.00" x2="110.35" y2="608.00" stroke="#000" stroke-width="1.2" />
<line x1="103.35" y1="613.50" x2="110.35" y2="613.50" stroke="#000" stroke-width="1.2" />
<circle cx="106.85" cy="609.60" r="3.2" fill="none" stroke="#000" stroke-width="1.4"/>
<polygon points="106.85,614.78 103.35,608.48 110.35,608.48" fill="none" stroke="#000" stroke-width="1.4" stroke-linejoin="miter"/>
<polygon points="106.85,608.22 103.35,614.52 110.35,614.52" fill="none" stroke="#000" stroke-width="1.4" stroke-linejoin="miter"/>
<line x1="155.80" y1="617.00" x2="155.80" y2="626.00" stroke="#000" stroke-width="1.2" />
<line x1="152.30" y1="617.00" x2="159.30" y2="617.00" stroke="#000" stroke-width="1.2" />
<line x1="152.30" y1="626.00" x2="159.30" y2="626.00" stroke="#000" stroke-width="1.2" />
<circle cx="155.80" cy="619.80" r="3.2" fill="none" stroke="#000" stroke-width="1.4"/>
<polygon points="155.80,625.58 152.30,619.28 159.30,619.28" fill="none" stroke="#000" stroke-width="1.4" stroke-linejoin="miter"/>
<polygon points="155.80,619.62 152.30,625.92 159.30,625.92" fill="none" stroke="#000" stroke-width="1.4" stroke-linejoin="miter"/>
<line x1="253.70" y1="637.20" x2="253.70" y2="651.00" stroke="#000" stroke-width="1.2" />
<line x1="250.20" y1="637.20" x2="257.20" y2="637.20" stroke="#000" stroke-width="1.2" />
<line x1="250.20" y1="651.00" x2="257.20" y2="651.00" stroke="#000" stroke-width="1.2" />
<circle cx="253.70" cy="643.30" r="3.2" fill="none" stroke="#000" stroke-width="1.4"/>
<polygon points="253.70,650.28 250.20,643.98 257.20,643.98" fill="none" stroke="#000" stroke-width="1.4" stroke-linejoin="miter"/>
<polygon points="253.70,646.22 250.20,652.52 257.20,652.52" fill="none" stroke="#000" stroke-width="1.4" stroke-linejoin="miter"/>
<line x1="239.90" y1="562.6" x2="256.90" y2="562.6" stroke="#000" stroke-width="0.9" />
<circle cx="248.40" cy="562.6" r="3.2" fill="none" stroke="#000" stroke-width="1.3"/>
<text x="267.10" y="567.30" font-size="13" text-anchor="start" font-weight="normal" >WT</text>
<line x1="239.90" y1="586.0" x2="256.90" y2="586.0" stroke="#000" stroke-width="0.9" stroke-dasharray="2,1.3"/>
<polygon points="248.40,589.89 244.80,583.41 252.00,583.41" fill="#fff" stroke="#000" stroke-width="1.4" stroke-linejoin="miter"/>
<text x="267.10" y="590.70" font-size="13" font-weight="normal">A12<tspan font-size="8.5" dy="-5" letter-spacing="0.4">-/-</tspan><tspan dy="5">#1</tspan></text>
<line x1="239.90" y1="610.5" x2="256.90" y2="610.5" stroke="#000" stroke-width="0.9" stroke-dasharray="1,1.3"/>
<polygon points="248.40,606.61 244.80,613.09 252.00,613.09" fill="#fff" stroke="#000" stroke-width="1.4" stroke-linejoin="miter"/>
<text x="267.10" y="615.20" font-size="13" font-weight="normal">A12<tspan font-size="8.5" dy="-5" letter-spacing="0.4">-/-</tspan><tspan dy="5">#2</tspan></text>
<text x="366.50" y="523.60" font-size="16" font-weight="normal">I)</text>
<text x="548.70" y="529.80" font-size="15.6" text-anchor="middle" font-weight="bold" >CT26</text>
<line x1="426.20" y1="550.25" x2="426.20" y2="715.95" stroke="#000" stroke-width="1.7" />
<line x1="419.50" y1="551.00" x2="426.20" y2="551.00" stroke="#000" stroke-width="1.7" />
<text x="418.30" y="556.36" font-size="11.9" text-anchor="end" font-weight="bold" >10</text>
<line x1="419.50" y1="605.73" x2="426.20" y2="605.73" stroke="#000" stroke-width="1.7" />
<text x="416.75" y="611.09" font-size="11.9" text-anchor="end" font-weight="bold" >1</text>
<line x1="419.50" y1="660.47" x2="426.20" y2="660.47" stroke="#000" stroke-width="1.7" />
<text x="416.75" y="665.82" font-size="11.9" text-anchor="end" font-weight="bold" >0.1</text>
<line x1="419.50" y1="715.20" x2="426.20" y2="715.20" stroke="#000" stroke-width="1.7" />
<text x="416.75" y="720.56" font-size="11.9" text-anchor="end" font-weight="bold" >0.01</text>
<line x1="425.45" y1="715.20" x2="671.20" y2="715.20" stroke="#000" stroke-width="1.7" />
<line x1="426.20" y1="715.20" x2="426.20" y2="722.40" stroke="#000" stroke-width="1.7" />
<line x1="475.20" y1="715.20" x2="475.20" y2="722.40" stroke="#000" stroke-width="1.7" />
<line x1="524.20" y1="715.20" x2="524.20" y2="722.40" stroke="#000" stroke-width="1.7" />
<line x1="573.20" y1="715.20" x2="573.20" y2="722.40" stroke="#000" stroke-width="1.7" />
<line x1="622.20" y1="715.20" x2="622.20" y2="722.40" stroke="#000" stroke-width="1.7" />
<line x1="671.20" y1="715.20" x2="671.20" y2="722.40" stroke="#000" stroke-width="1.7" />
<text x="426.20" y="735.60" font-size="11.4" text-anchor="middle" font-weight="bold" >0</text>
<text x="475.20" y="735.60" font-size="11.4" text-anchor="middle" font-weight="bold" >1</text>
<text x="524.20" y="735.60" font-size="11.4" text-anchor="middle" font-weight="bold" >2</text>
<text x="573.20" y="735.60" font-size="11.4" text-anchor="middle" font-weight="bold" >3</text>
<text x="622.20" y="735.60" font-size="11.4" text-anchor="middle" font-weight="bold" >4</text>
<text x="671.20" y="735.60" font-size="11.4" text-anchor="middle" font-weight="bold" >5</text>
<text x="549.20" y="756.10" font-size="13.8" text-anchor="middle" font-weight="bold" >Dose (Gy)</text>
<text transform="translate(384.50,633.10) rotate(-90)" font-size="13.3" text-anchor="middle" font-weight="bold">Surviving fraction</text>
<polyline points="426.20,605.73 431.10,605.89 436.00,606.12 440.90,606.41 445.80,606.77 450.70,607.20 455.60,607.70 460.50,608.25 465.40,608.87 470.30,609.56 475.20,610.30 480.10,611.11 485.00,611.97 489.90,612.90 494.80,613.88 499.70,614.92 504.60,616.01 509.50,617.16 514.40,618.36 519.30,619.62 524.20,620.93 529.10,622.29 534.00,623.70 538.90,625.16 543.80,626.66 548.70,628.22 553.60,629.82 558.50,631.47 563.40,633.16 568.30,634.89 573.20,636.67 578.10,638.49 583.00,640.35 587.90,642.25 592.80,644.19 597.70,646.17 602.60,648.18 607.50,650.23 612.40,652.32 617.30,654.44" fill="none" stroke="#000" stroke-width="0.9" />
<polyline points="426.20,605.73 431.10,605.40 436.00,605.18 440.90,605.08 445.80,605.10 450.70,605.22 455.60,605.46 460.50,605.80 465.40,606.25 470.30,606.79 475.20,607.44 480.10,608.17 485.00,609.00 489.90,609.92 494.80,610.92 499.70,612.00 504.60,613.17 509.50,614.41 514.40,615.73 519.30,617.11 524.20,618.57 529.10,620.09 534.00,621.67 538.90,623.31 543.80,625.01 548.70,626.76 553.60,628.56 558.50,630.41 563.40,632.31 568.30,634.24 573.20,636.22 578.10,638.23 583.00,640.27 587.90,642.35 592.80,644.45 597.70,646.58 602.60,648.72 607.50,650.89 612.40,653.07 617.30,655.27" fill="none" stroke="#000" stroke-width="0.9" stroke-dasharray="2.2,1.2"/>
<polyline points="426.20,605.73 431.10,605.87 436.00,606.09 440.90,606.39 445.80,606.77 450.70,607.22 455.60,607.76 460.50,608.36 465.40,609.04 470.30,609.79 475.20,610.61 480.10,611.50 485.00,612.45 489.90,613.46 494.80,614.54 499.70,615.68 504.60,616.88 509.50,618.14 514.40,619.45 519.30,620.82 524.20,622.23 529.10,623.70 534.00,625.22 538.90,626.79 543.80,628.40 548.70,630.05 553.60,631.75 558.50,633.49 563.40,635.27 568.30,637.08 573.20,638.93 578.10,640.82 583.00,642.73 587.90,644.68 592.80,646.65 597.70,648.66 602.60,650.69 607.50,652.74 612.40,654.81 617.30,656.91" fill="none" stroke="#000" stroke-width="0.9" stroke-dasharray="0.9,1.3"/>
<rect x="422.20" y="602.10" width="8" height="8" fill="#000"/>
<line x1="475.20" y1="606.30" x2="475.20" y2="615.40" stroke="#000" stroke-width="1.2" />
<line x1="471.70" y1="606.30" x2="478.70" y2="606.30" stroke="#000" stroke-width="1.2" />
<line x1="471.70" y1="615.40" x2="478.70" y2="615.40" stroke="#000" stroke-width="1.2" />
<circle cx="475.20" cy="610.50" r="3.2" fill="none" stroke="#000" stroke-width="1.4"/>
<polygon points="475.20,613.58 471.70,607.28 478.70,607.28" fill="none" stroke="#000" stroke-width="1.4" stroke-linejoin="miter"/>
<polygon points="475.20,608.02 471.70,614.32 478.70,614.32" fill="none" stroke="#000" stroke-width="1.4" stroke-linejoin="miter"/>
<line x1="524.20" y1="615.00" x2="524.20" y2="626.60" stroke="#000" stroke-width="1.2" />
<line x1="520.70" y1="615.00" x2="527.70" y2="615.00" stroke="#000" stroke-width="1.2" />
<line x1="520.70" y1="626.60" x2="527.70" y2="626.60" stroke="#000" stroke-width="1.2" />
<circle cx="524.20" cy="620.80" r="3.2" fill="none" stroke="#000" stroke-width="1.4"/>
<polygon points="524.20,623.58 520.70,617.28 527.70,617.28" fill="none" stroke="#000" stroke-width="1.4" stroke-linejoin="miter"/>
<polygon points="524.20,618.22 520.70,624.52 527.70,624.52" fill="none" stroke="#000" stroke-width="1.4" stroke-linejoin="miter"/>
<line x1="622.20" y1="654.20" x2="622.20" y2="670.80" stroke="#000" stroke-width="1.2" />
<line x1="618.70" y1="654.20" x2="625.70" y2="654.20" stroke="#000" stroke-width="1.2" />
<line x1="618.70" y1="670.80" x2="625.70" y2="670.80" stroke="#000" stroke-width="1.2" />
<circle cx="622.20" cy="659.40" r="3.2" fill="none" stroke="#000" stroke-width="1.4"/>
<polygon points="622.20,665.58 618.70,659.28 625.70,659.28" fill="none" stroke="#000" stroke-width="1.4" stroke-linejoin="miter"/>
<polygon points="622.20,659.22 618.70,665.52 625.70,665.52" fill="none" stroke="#000" stroke-width="1.4" stroke-linejoin="miter"/>
<line x1="607.80" y1="562.6" x2="624.80" y2="562.6" stroke="#000" stroke-width="0.9" />
<circle cx="616.30" cy="562.6" r="3.2" fill="none" stroke="#000" stroke-width="1.3"/>
<text x="635.00" y="567.30" font-size="13" text-anchor="start" font-weight="normal" >WT</text>
<line x1="607.80" y1="586.0" x2="624.80" y2="586.0" stroke="#000" stroke-width="0.9" stroke-dasharray="2,1.3"/>
<polygon points="616.30,589.89 612.70,583.41 619.90,583.41" fill="#fff" stroke="#000" stroke-width="1.4" stroke-linejoin="miter"/>
<text x="635.00" y="590.70" font-size="13" font-weight="normal">A12<tspan font-size="8.5" dy="-5" letter-spacing="0.4">-/-</tspan><tspan dy="5">#1</tspan></text>
<line x1="607.80" y1="610.5" x2="624.80" y2="610.5" stroke="#000" stroke-width="0.9" stroke-dasharray="1,1.3"/>
<polygon points="616.30,606.61 612.70,613.09 619.90,613.09" fill="#fff" stroke="#000" stroke-width="1.4" stroke-linejoin="miter"/>
<text x="635.00" y="615.20" font-size="13" font-weight="normal">A12<tspan font-size="8.5" dy="-5" letter-spacing="0.4">-/-</tspan><tspan dy="5">#2</tspan></text>
</svg></body></html>
